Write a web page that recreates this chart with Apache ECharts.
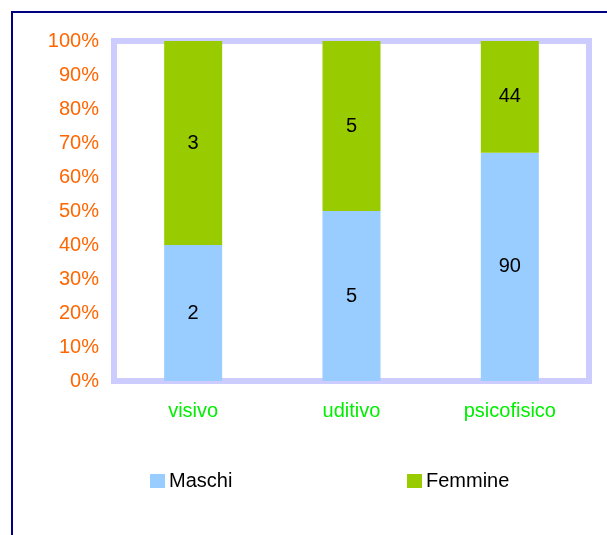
<!DOCTYPE html>
<html>
<head>
<meta charset="utf-8">
<script src="https://cdn.jsdelivr.net/npm/echarts@6/dist/echarts.min.js"></script>
<style>
  html, body { margin: 0; padding: 0; background: #fff; }
  #chart { width: 607px; height: 535px; }
</style>
</head>
<body>
<div id="chart"></div>
<script>
const categories = ['visivo', 'uditivo', 'psicofisico']
const maschi = [2, 5, 90]
const femmine = [3, 5, 44]
const yTicks = [0, 10, 20, 30, 40, 50, 60, 70, 80, 90, 100]

const font = 'Liberation Sans, Arial, sans-serif'

// 100% stacked: each bar is its share of the category total, label shows the count
function share(values, i) {
  const total = maschi[i] + femmine[i]
  return { value: values[i] / total * 100, raw: values[i] }
}

const chart = echarts.init(document.getElementById('chart'))
chart.setOption({
  animation: false,
  graphic: [{
    type: 'rect',
    shape: { x: 12, y: 12, width: 700, height: 600 },
    style: { fill: 'none', stroke: '#000080', lineWidth: 2 },
    silent: true
  }],
  grid: {
    left: 114,
    right: 18,
    top: 41,
    bottom: 154,
    show: true,
    borderColor: '#ccccff',
    borderWidth: 6,
    backgroundColor: '#fff'
  },
  legend: [
    {
      data: ['Maschi'],
      left: 150,
      top: 471,
      padding: 0,
      itemWidth: 15,
      itemHeight: 14,
      itemGap: 4,
      icon: 'rect',
      textStyle: { color: '#000', fontSize: 20, fontFamily: font, padding: [0, 0, 0, -1] }
    },
    {
      data: ['Femmine'],
      left: 407,
      top: 471,
      padding: 0,
      itemWidth: 15,
      itemHeight: 14,
      icon: 'rect',
      textStyle: { color: '#000', fontSize: 20, fontFamily: font, padding: [0, 0, 0, -1] }
    }
  ],
  xAxis: {
    type: 'category',
    data: categories,
    axisLine: { show: false },
    axisTick: { show: false },
    axisLabel: { color: '#00ee00', fontSize: 20, fontFamily: font, margin: 20 }
  },
  yAxis: {
    type: 'value',
    min: yTicks[0],
    max: yTicks[yTicks.length - 1],
    interval: 10,
    axisLine: { show: false },
    axisTick: { show: false },
    splitLine: { show: false },
    axisLabel: {
      color: '#ff6600',
      fontSize: 20,
      fontFamily: font,
      margin: 15,
      formatter: '{value}%'
    }
  },
  series: [
    {
      name: 'Maschi',
      type: 'bar',
      stack: 'tot',
      barWidth: 58,
      itemStyle: { color: '#99ccff' },
      label: {
        show: true,
        position: 'inside',
        color: '#000',
        fontSize: 20,
        fontFamily: font,
        formatter: p => p.data.raw
      },
      data: categories.map((c, i) => share(maschi, i))
    },
    {
      name: 'Femmine',
      type: 'bar',
      stack: 'tot',
      barWidth: 58,
      itemStyle: { color: '#99cc00' },
      label: {
        show: true,
        position: 'inside',
        color: '#000',
        fontSize: 20,
        fontFamily: font,
        formatter: p => p.data.raw
      },
      data: categories.map((c, i) => share(femmine, i))
    }
  ]
})
</script>
</body>
</html>
